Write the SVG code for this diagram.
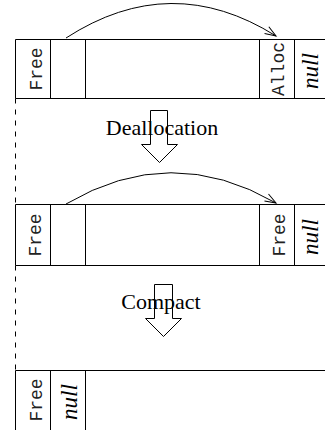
<svg xmlns="http://www.w3.org/2000/svg" width="325" height="430" viewBox="0 0 325 430">
<defs>
<style>
.ln{stroke:#000;stroke-width:1;fill:none}
.dash{stroke:#000;stroke-width:1;fill:none;stroke-dasharray:5 6}
.mono{font-family:"Liberation Mono","DejaVu Sans Mono",monospace;font-size:18px;fill:#222;text-anchor:middle}
.nul{font-family:"Liberation Serif","Times New Roman",serif;font-style:italic;font-size:23px;fill:#000;text-anchor:middle}
.lbl{font-family:"Liberation Serif","Times New Roman",serif;font-size:22px;fill:#000;text-anchor:middle}
.blk{stroke:#000;stroke-width:1;fill:none}
</style>
<marker id="ah" viewBox="-12 -6 14 12" markerWidth="14" markerHeight="12" refX="0" refY="0" orient="auto" markerUnits="userSpaceOnUse">
<path d="M-11,-4 L0,0 L-11,4" class="ln"/>
</marker>
</defs>
<rect width="325" height="430" fill="#fff"/>

<g id="row1">
<path class="ln" d="M15.5,39.5 H325 M15.5,98.5 H325 M15.5,39.5 V98.5 M50.5,39.5 V98.5 M85.5,39.5 V98.5 M259.5,39.5 V98.5 M294.5,39.5 V98.5"/>
<text class="mono" transform="translate(41.5,69) rotate(-90)">Free</text>
<text class="mono" transform="translate(283.5,69) rotate(-90)">Alloc</text>
<text class="nul" transform="translate(318,71) rotate(-90)">null</text>
</g>

<g id="row2">
<path class="ln" d="M15.5,204.5 H325 M15.5,265.5 H325 M15.5,204.5 V265.5 M50.5,204.5 V265.5 M85.5,204.5 V265.5 M259.5,204.5 V265.5 M294.5,204.5 V265.5"/>
<text class="mono" transform="translate(41,235) rotate(-90)">Free</text>
<text class="mono" transform="translate(284.5,235) rotate(-90)">Free</text>
<text class="nul" transform="translate(318,237) rotate(-90)">null</text>
</g>

<g id="row3">
<path class="ln" d="M15.5,370.5 H325 M15.5,370.5 V430 M50.5,370.5 V430 M85.5,370.5 V430"/>
<text class="mono" transform="translate(41.5,400) rotate(-90)">Free</text>
<text class="nul" transform="translate(76.5,402) rotate(-90)">null</text>
</g>

<g id="connectors">
<path class="dash" d="M15.5,98.5 V204.5 M15.5,265.5 V370.5"/>
<path class="ln" d="M66,38 Q171,-30 276,36" marker-end="url(#ah)"/>
<path class="ln" d="M66,204 Q171,142 276,203" marker-end="url(#ah)"/>
<polygon class="blk" points="150.5,110.5 167.5,110.5 167.5,144.5 177.5,144.5 159.5,162.5 141.5,144.5 150.5,144.5"/>
<polygon class="blk" points="154.5,284.5 172.5,284.5 172.5,318.5 181.5,318.5 163.5,336.5 145.5,318.5 154.5,318.5"/>
</g>

<g id="labels">
<text class="lbl" x="162" y="134.5">Deallocation</text>
<text class="lbl" x="161" y="309">Compact</text>
</g>
</svg>
